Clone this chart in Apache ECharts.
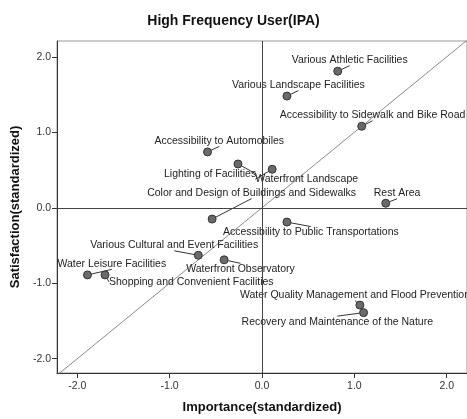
<!DOCTYPE html>
<html>
<head>
<meta charset="utf-8">
<script src="https://cdn.jsdelivr.net/npm/echarts@6/dist/echarts.min.js"></script>
<style>
  html, body { margin: 0; padding: 0; background: #fff; }
  #ipa { width: 467px; height: 419px; }
</style>
</head>
<body>
<div id="ipa"></div>
<script>
// attributes of the waterfront, high frequency users
var names = [
  'Various Athletic Facilities',
  'Various Landscape Facilities',
  'Accessibility to Sidewalk and Bike Road',
  'Accessibility to Automobiles',
  'Lighting of Facilities',
  'Waterfront Landscape',
  'Color and Design of Buildings and Sidewalks',
  'Rest Area',
  'Accessibility to Public Transportations',
  'Various Cultural and Event Facilities',
  'Waterfront Observatory',
  'Water Leisure Facilities',
  'Shopping and Convenient Facilities',
  'Water Quality Management and Flood Prevention',
  'Recovery and Maintenance of the Nature'
];
var importance   = [0.82, 0.27, 1.08, -0.59, -0.26, 0.11, -0.54, 1.34, 0.27, -0.69, -0.41, -1.89, -1.70, 1.06, 1.10];
var satisfaction = [1.81, 1.48, 1.08, 0.74, 0.58, 0.51, -0.15, 0.06, -0.19, -0.63, -0.69, -0.89, -0.89, -1.29, -1.39];
var tickValues = [-2, -1, 0, 1, 2];
var diagonal = [[-3, -3], [3, 3]];

// where each label sits relative to its point (px, left edge / vertical middle)
var labelOffset = [
  [-46, -11], [-55, -11], [-82, -11], [-53, -11], [-74, 10],
  [-17, 10], [-65, -26], [-12, -10], [-64, 10], [-108, -10],
  [-38, 9], [-30, -11], [4, 7], [-120, -10], [-122, 9]
];

var font = 'Arial, "Liberation Sans", sans-serif';

var points = names.map(function (n, i) {
  return {
    name: n,
    value: [importance[i], satisfaction[i]],
    label: { offset: labelOffset[i] }
  };
});

var chart = echarts.init(document.getElementById('ipa'));
chart.setOption({
  animation: false,
  title: {
    text: 'High Frequency User(IPA)',
    left: 'center',
    top: 9,
    textStyle: { fontFamily: font, fontSize: 14, fontWeight: 'bold', color: '#111' }
  },
  grid: {
    left: 57, right: -2, top: 41, bottom: 45,
    show: true, borderColor: '#999', borderWidth: 1
  },
  xAxis: {
    type: 'value',
    min: -2.22, max: 2.22,
    name: 'Importance(standardized)',
    nameLocation: 'middle',
    nameGap: 28,
    nameTextStyle: { fontFamily: font, fontSize: 13, fontWeight: 'bold', color: '#111' },
    splitLine: { show: false },
    axisLine: { onZero: false, lineStyle: { color: '#333' } },
    axisTick: { customValues: tickValues, length: 5, lineStyle: { color: '#333' } },
    axisLabel: {
      customValues: tickValues, margin: 8,
      fontFamily: font, fontSize: 10.5, color: '#333',
      formatter: function (v) { return v.toFixed(1); }
    }
  },
  yAxis: {
    type: 'value',
    min: -2.19, max: 2.21,
    name: 'Satisfaction(standardized)',
    nameLocation: 'middle',
    nameGap: 29,
    nameTextStyle: { fontFamily: font, fontSize: 13, fontWeight: 'bold', color: '#111' },
    splitLine: { show: false },
    axisLine: { show: true, onZero: false, lineStyle: { color: '#333' } },
    axisTick: { show: true, customValues: tickValues, length: 5, lineStyle: { color: '#333' } },
    axisLabel: {
      customValues: tickValues, margin: 6,
      fontFamily: font, fontSize: 10.5, color: '#333',
      formatter: function (v) { return v.toFixed(1); }
    }
  },
  series: [
    {
      name: 'diagonal',
      type: 'line',
      data: diagonal,
      symbol: 'none',
      silent: true,
      lineStyle: { color: '#8a8a8a', width: 1 },
      z: 1
    },
    {
      name: 'attributes',
      type: 'scatter',
      data: points,
      symbolSize: 8,
      itemStyle: { color: '#6a6a6a', borderColor: '#333', borderWidth: 1, opacity: 1 },
      label: {
        show: true,
        position: 'inside',
        align: 'left',
        verticalAlign: 'middle',
        formatter: '{b}',
        fontFamily: font,
        fontSize: 10.5,
        color: '#222',
        textBorderWidth: 0
      },
      labelLine: { show: true, lineStyle: { color: '#333', width: 1 } },
      markLine: {
        silent: true,
        symbol: 'none',
        label: { show: false },
        lineStyle: { color: '#444', width: 1, type: 'solid' },
        data: [{ xAxis: 0 }, { yAxis: 0 }]
      },
      z: 3
    }
  ]
});
</script>
</body>
</html>
